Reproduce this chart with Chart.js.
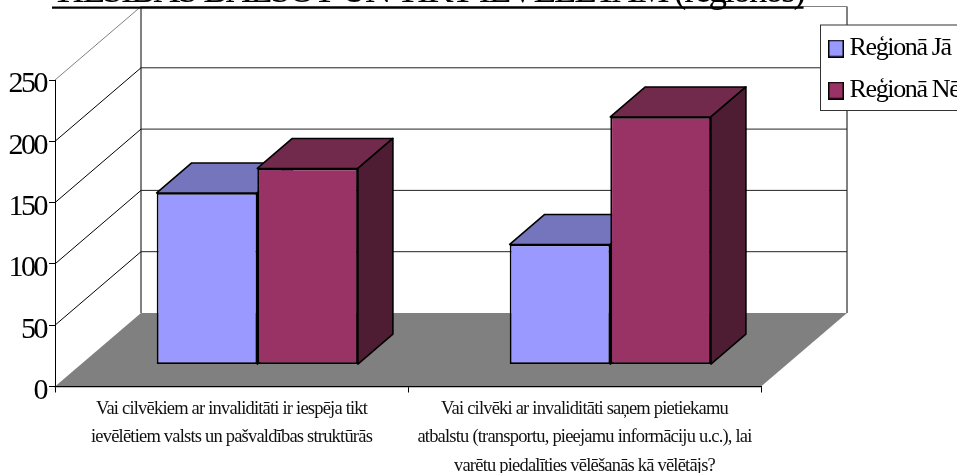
<!DOCTYPE html>
<html>
<head>
<meta charset="utf-8">
<style>
html,body{margin:0;padding:0;background:#fff;overflow:hidden;width:957px;height:473px}
canvas{position:absolute;left:0;top:-26px}
</style>
<script src="https://cdn.jsdelivr.net/npm/chart.js@4"></script>
</head>
<body>
<canvas id="c" width="957" height="499"></canvas>
<script>
const titleText = "TIESĪBAS BALSOT UN TIKT IEVĒLĒTAM (reģionos)";
const categories = [
  ["Vai cilvēkiem ar invaliditāti ir iespēja tikt", "ievēlētiem valsts un pašvaldības struktūrās"],
  ["Vai cilvēki ar invaliditāti saņem pietiekamu", "atbalstu (transportu, pieejamu informāciju u.c.), lai", "varētu piedalīties vēlēšanās kā vēlētājs?"]
];
const seriesNames = ["Reģionā Jā", "Reģionā Nē"];
const valuesJa = [140, 98];
const valuesNe = [160, 202];
const frontColors = ["#9999FF", "#993366"];
const topColors = ["#7575BD", "#722A4C"];
const sideColors = ["#3C3C66", "#4E1C33"];

const FLOOR = {dx: 86, dy: -73.5};
const PLANE = {dx: 25.8, dy: -21.9};
const BAR = {dx: 35, dy: -30};
const FONT = "'Liberation Serif','Times New Roman',serif";
const TITLE_SPACING = "-2.26px";

function poly(ctx, pts, fill, stroke, lw) {
  ctx.beginPath();
  pts.forEach((p, i) => i ? ctx.lineTo(p[0], p[1]) : ctx.moveTo(p[0], p[1]));
  ctx.closePath();
  if (fill) { ctx.fillStyle = fill; ctx.fill(); }
  if (stroke) { ctx.strokeStyle = stroke; ctx.lineWidth = lw; ctx.lineJoin = "round"; ctx.stroke(); }
}
function seg(ctx, x0, y0, x1, y1, color, lw) {
  ctx.beginPath(); ctx.moveTo(x0, y0); ctx.lineTo(x1, y1);
  ctx.strokeStyle = color; ctx.lineWidth = lw; ctx.stroke();
}
function swatch(color) {
  const cv = document.createElement("canvas");
  cv.width = 16; cv.height = 18;
  const g = cv.getContext("2d");
  g.fillStyle = "#000"; g.fillRect(0, 0, 16, 18);
  g.fillStyle = color; g.fillRect(1.5, 1.5, 13, 15);
  return cv;
}
const swatches = frontColors.map(swatch);

function wrapText(chart, item, method, spacing, offY) {
  if (item["_w_" + method]) return;
  const orig = item[method];
  item[method] = function (a) {
    const c = chart.ctx;
    c.save(); c.translate(0, offY); c.letterSpacing = spacing;
    orig.call(this, a);
    c.restore();
  };
  item["_w_" + method] = true;
}

const scene3d = {
  id: "scene3d",
  beforeLayout(chart) {
    const l = chart.legend;
    if (!l._fitWrapped) {
      const fit = l.fit;
      l.fit = function () { fit.call(this); this.width = 196; };
      l._fitWrapped = true;
    }
  },
  afterLayout(chart) {
    const l = chart.legend;
    const w = l.width, h = l.height;
    l.left = 819.5; l.right = l.left + w; l.top = 45.5; l.bottom = 45.5 + h;
    chart.titleBlock.left = 52;
    wrapText(chart, chart.scales.y, "drawLabels", "-2.5px", 4.5);
    wrapText(chart, chart.scales.x, "drawLabels", "-0.8px", 0);
    wrapText(chart, l, "draw", "-1.35px", 0);
    wrapText(chart, chart.titleBlock, "draw", TITLE_SPACING, -4);
  },
  beforeDraw(chart) {
    const {ctx, chartArea: a, scales} = chart;
    const y = scales.y;
    ctx.save();
    ctx.fillStyle = "#fff";
    ctx.fillRect(0, 0, chart.width, chart.height);
    // back wall and side wall frame
    seg(ctx, a.left + FLOOR.dx, a.top + FLOOR.dy, a.right + FLOOR.dx, a.top + FLOOR.dy, "#808080", 1);
    seg(ctx, a.left + FLOOR.dx, a.top + FLOOR.dy, a.left + FLOOR.dx, a.bottom + FLOOR.dy, "#808080", 2);
    seg(ctx, a.right + FLOOR.dx, a.top + FLOOR.dy, a.right + FLOOR.dx, a.bottom + FLOOR.dy, "#808080", 2);
    seg(ctx, a.left, a.top, a.left + FLOOR.dx, a.top + FLOOR.dy, "#808080", 1);
    y.ticks.forEach(t => {
      if (t.value === 0 || t.value === y.max) return;
      const p = y.getPixelForValue(t.value);
      seg(ctx, a.left, p, a.left + FLOOR.dx, p + FLOOR.dy, "#000", 1);
      seg(ctx, a.left + FLOOR.dx, p + FLOOR.dy, a.right + FLOOR.dx, p + FLOOR.dy, "#222", 1);
    });
    // floor
    poly(ctx, [[a.left, a.bottom], [a.right, a.bottom], [a.right + FLOOR.dx, a.bottom + FLOOR.dy], [a.left + FLOOR.dx, a.bottom + FLOOR.dy]], "#808080");
    // title underline
    ctx.font = chart.options.plugins.title.font.size + "px " + FONT;
    ctx.letterSpacing = TITLE_SPACING;
    const tw = ctx.measureText(titleText).width;
    ctx.letterSpacing = "0px";
    seg(ctx, chart.titleBlock.left, 33.7, chart.titleBlock.left + tw, 33.7, "#000", 2.2);
    // legend frame
    ctx.fillStyle = "#fff";
    ctx.fillRect(820.5, 51, 200, 85.5);
    ctx.strokeStyle = "#333"; ctx.lineWidth = 1;
    ctx.strokeRect(820.5, 51, 200, 85.5);
    ctx.restore();
  },
  beforeDatasetsDraw(chart) {
    const ctx = chart.ctx;
    ctx.save();
    ctx.translate(PLANE.dx, PLANE.dy);
    chart.data.datasets.forEach((ds, i) => {
      chart.getDatasetMeta(i).data.forEach(el => {
        const L = el.x - el.width / 2, R = el.x + el.width / 2, T = el.y, B = el.base;
        const d = BAR;
        poly(ctx, [[L, T], [R, T], [R + d.dx, T + d.dy], [L + d.dx, T + d.dy]], topColors[i], "#000", 1.6);
        poly(ctx, [[R, T], [R + d.dx, T + d.dy], [R + d.dx, B + d.dy], [R, B]], sideColors[i], "#000", 1.6);
      });
    });
    ctx.restore();
  },
  beforeDatasetDraw(chart) {
    chart.ctx.save();
    chart.ctx.translate(PLANE.dx, PLANE.dy);
  },
  afterDatasetDraw(chart) {
    chart.ctx.restore();
  }
};

new Chart(document.getElementById("c"), {
  type: "bar",
  plugins: [scene3d],
  data: {
    labels: categories,
    datasets: [
      {label: seriesNames[0], data: valuesJa, backgroundColor: frontColors[0]},
      {label: seriesNames[1], data: valuesNe, backgroundColor: frontColors[1]}
    ].map(d => Object.assign(d, {borderColor: "#000", borderWidth: 1.8, borderSkipped: false, clip: false, categoryPercentage: 0.57, barPercentage: 1}))
  },
  options: {
    responsive: false,
    animation: false,
    events: [],
    layout: {autoPadding: false, padding: 0},
    scales: {
      x: {
        afterFit(s) { s.height = 86.5; },
        border: {color: "#000", width: 1.2},
        grid: {drawOnChartArea: false, drawTicks: true, tickLength: 6, color: "#000", lineWidth: 1},
        ticks: {autoSkip: false, maxRotation: 0, minRotation: 0, color: "#111", padding: 2,
          font: {family: FONT, size: 18.5, lineHeight: 1.54}}
      },
      y: {
        min: 0, max: 250,
        afterFit(s) { s.width = 55; },
        border: {color: "#000", width: 1},
        grid: {drawOnChartArea: false, drawTicks: true, tickLength: 6, color: "#000", lineWidth: 1},
        ticks: {stepSize: 50, color: "#000", padding: 3, font: {family: FONT, size: 30}}
      }
    },
    plugins: {
      tooltip: {enabled: false},
      title: {
        display: true, text: titleText, align: "start", color: "#000",
        font: {family: FONT, size: 37, weight: "normal"},
        padding: {top: 0, bottom: 61.6}
      },
      legend: {
        position: "right", align: "start",
        labels: {
          color: "#000", boxHeight: 18, padding: 16, usePointStyle: true, pointStyleWidth: 1,
          font: {family: FONT, size: 26},
          generateLabels(chart) {
            return Chart.defaults.plugins.legend.labels.generateLabels(chart).map((it, i) =>
              Object.assign(it, {pointStyle: swatches[i]}));
          }
        }
      }
    }
  }
});
</script>
</body>
</html>
